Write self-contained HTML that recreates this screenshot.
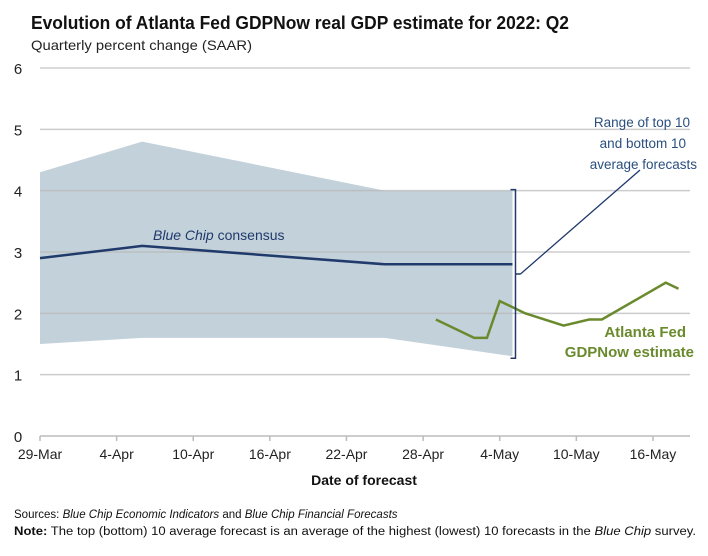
<!DOCTYPE html>
<html><head><meta charset="utf-8"><style>
body{margin:0;background:#fff;width:708px;height:551px;overflow:hidden;font-family:"Liberation Sans",sans-serif}
</style></head><body>
<svg width="708" height="551" font-family="Liberation Sans, sans-serif">
<text x="31" y="29" font-size="18" font-weight="bold" fill="#111" textLength="538" lengthAdjust="spacingAndGlyphs">Evolution of Atlanta Fed GDPNow real GDP estimate for 2022: Q2</text>
<text x="31" y="50" font-size="14" fill="#222" textLength="221" lengthAdjust="spacingAndGlyphs">Quarterly percent change (SAAR)</text>
<g id="band"></g><g id="grid"></g><g id="lines"></g><g id="axis"></g>
<text x="153" y="240" font-size="14" font-style="italic" fill="#1f3a6b">Blue Chip <tspan font-style="normal">consensus</tspan></text>
<g font-size="13.5" fill="#2a4f7f" text-anchor="end">
<text x="690" y="127">Range of top 10</text><text x="686" y="148">and bottom 10</text><text x="697" y="169">average forecasts</text></g>
<g font-size="15" font-weight="bold" fill="#6a8a2e" text-anchor="end">
<text x="686" y="337">Atlanta Fed</text><text x="694" y="357">GDPNow estimate</text></g>
<text x="364" y="485" font-size="14" font-weight="bold" fill="#111" text-anchor="middle">Date of forecast</text>
<text x="14" y="518" font-size="11.5" fill="#111">Sources: <tspan font-style="italic">Blue Chip Economic Indicators</tspan> and <tspan font-style="italic">Blue Chip Financial Forecasts</tspan></text>
<text x="14" y="535" font-size="11.5" fill="#111" textLength="682" lengthAdjust="spacingAndGlyphs"><tspan font-weight="bold">Note:</tspan> The top (bottom) 10 average forecast is an average of the highest (lowest) 10 forecasts in the <tspan font-style="italic">Blue Chip</tspan> survey.</text>
</svg>
<script>
const yTicks=[0,1,2,3,4,5,6];
const xTickLabels=["29-Mar","4-Apr","10-Apr","16-Apr","22-Apr","28-Apr","4-May","10-May","16-May"];
const xTickDays=[0,6,12,18,24,30,36,42,48];
const bandDays=[0,8,27,37];
const bandUpper=[4.3,4.8,4.0,4.0];
const bandLower=[1.5,1.6,1.6,1.3];
const consensusDays=[0,8,27,37];
const consensusValues=[2.9,3.1,2.8,2.8];
const gdpNowDays=[31,34,35,36,38,41,43,44,49,50];
const gdpNowValues=[1.9,1.6,1.6,2.2,2.0,1.8,1.9,1.9,2.5,2.4];
const X=d=>40+d*12.77, Y=v=>436-v*61.33;
const NS="http://www.w3.org/2000/svg";
function mk(p,t,a){const e=document.createElementNS(NS,t);for(const k in a)e.setAttribute(k,a[k]);document.getElementById(p).appendChild(e);return e;}
yTicks.forEach(v=>{
 if(v>0){const l=mk('grid','line',{x1:40,x2:690,y1:Y(v),y2:Y(v),stroke:'#b8b8b8','stroke-opacity':0.7,'stroke-width':1.5});
 
 }
 const t=mk('axis','text',{x:18,y:Y(v)+6,'font-size':15,fill:'#222','text-anchor':'middle'});t.textContent=v;
 
 
});
let pts=bandDays.map((d,i)=>X(d)+','+Y(bandUpper[i]));
for(let i=bandDays.length-1;i>=0;i--)pts.push(X(bandDays[i])+','+Y(bandLower[i]));
const b=mk('band','polygon',{points:pts.join(' '),fill:'#c3d1da'});


const c=mk('lines','polyline',{points:consensusDays.map((d,i)=>X(d)+','+Y(consensusValues[i])).join(' '),fill:'none',stroke:'#1f3a6b','stroke-width':2.5});


const g=mk('lines','polyline',{points:gdpNowDays.map((d,i)=>X(d)+','+Y(gdpNowValues[i])).join(' '),fill:'none',stroke:'#6a8a2e','stroke-width':2.5});


const ed=bandDays[bandDays.length-1],bx=X(ed)+3,bTop=Y(bandUpper[bandUpper.length-1])-1,bBot=Y(bandLower[bandLower.length-1])+2,bMid=(bTop+bBot)/2;
const br=mk('lines','path',{d:`M${bx-5},${bTop} H${bx} V${bBot} H${bx-5} M${bx},${bMid} H${bx+5}`,fill:'none',stroke:'#1f3a6b','stroke-width':1.5});


const ld=mk('lines','line',{x1:bx+5,y1:bMid,x2:640,y2:170,stroke:'#1f3a6b','stroke-width':1.3});


const ax=mk('axis','line',{x1:40,x2:690,y1:436,y2:436,stroke:'#bbb','stroke-width':1.5});


xTickDays.forEach((d,i)=>{
 mk('axis','line',{x1:X(d),x2:X(d),y1:436,y2:441,stroke:'#bbb','stroke-width':1.5});
 const t=mk('axis','text',{x:X(d),y:459,'font-size':14,fill:'#222','text-anchor':'middle'});t.textContent=xTickLabels[i];
 
 
});
</script>
</body></html>
